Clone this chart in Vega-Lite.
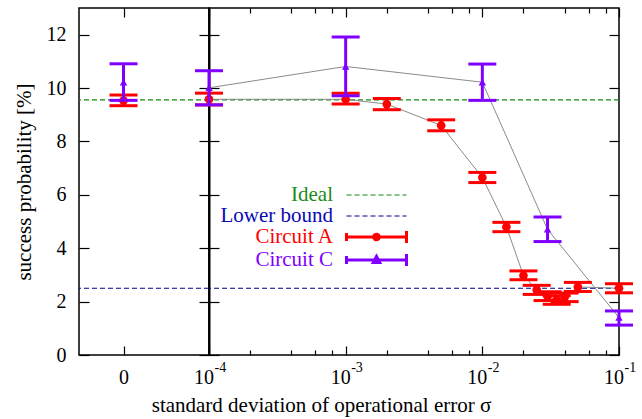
{
  "$schema": "https://vega.github.io/schema/vega-lite/v6.json",
  "autosize": {"type": "pad"},
  "padding": {"left": 12, "top": 6, "right": 5, "bottom": 5},
  "background": "white",
  "spacing": 0,
  "bounds": "flush",
  "config": {
    "view": {"stroke": "black", "strokeWidth": 1.5},
    "font": "Liberation Serif",
    "axis": {"labelFont": "Liberation Serif", "titleFont": "Liberation Serif", "labelColor": "black", "titleColor": "black", "tickColor": "black", "tickWidth": 1.2, "grid": false, "domain": false, "labelFontSize": 20, "titleFontSize": 21, "titleFontWeight": "normal", "labelFlush": false, "labelOverlap": false, "labelBound": false}
  },
  "datasets": {
    "refs": [
      {"series": "Ideal", "value": 9.56},
      {"series": "Lower bound", "value": 2.5}
    ],
    "meas": [
      {"series": "Circuit A", "sigma": 0, "mean": 9.53, "lo": 9.34, "hi": 9.74},
      {"series": "Circuit A", "sigma": 0.0001, "mean": 9.58, "lo": 9.37, "hi": 9.81},
      {"series": "Circuit A", "sigma": 0.001, "mean": 9.58, "lo": 9.40, "hi": 9.81},
      {"series": "Circuit A", "sigma": 0.002, "mean": 9.40, "lo": 9.19, "hi": 9.61},
      {"series": "Circuit A", "sigma": 0.005, "mean": 8.60, "lo": 8.40, "hi": 8.81},
      {"series": "Circuit A", "sigma": 0.01, "mean": 6.65, "lo": 6.46, "hi": 6.84},
      {"series": "Circuit A", "sigma": 0.015, "mean": 4.80, "lo": 4.62, "hi": 4.97},
      {"series": "Circuit A", "sigma": 0.02, "mean": 2.98, "lo": 2.82, "hi": 3.15},
      {"series": "Circuit A", "sigma": 0.025, "mean": 2.44, "lo": 2.27, "hi": 2.61},
      {"series": "Circuit A", "sigma": 0.03, "mean": 2.20, "lo": 2.04, "hi": 2.37},
      {"series": "Circuit A", "sigma": 0.035, "mean": 2.06, "lo": 1.90, "hi": 2.22},
      {"series": "Circuit A", "sigma": 0.04, "mean": 2.16, "lo": 2.00, "hi": 2.32},
      {"series": "Circuit A", "sigma": 0.05, "mean": 2.55, "lo": 2.38, "hi": 2.72},
      {"series": "Circuit A", "sigma": 0.1, "mean": 2.50, "lo": 2.33, "hi": 2.67},
      {"series": "Circuit C", "sigma": 0, "mean": 10.22, "lo": 9.54, "hi": 10.91},
      {"series": "Circuit C", "sigma": 0.0001, "mean": 10.01, "lo": 9.37, "hi": 10.65},
      {"series": "Circuit C", "sigma": 0.001, "mean": 10.81, "lo": 9.71, "hi": 11.91},
      {"series": "Circuit C", "sigma": 0.01, "mean": 10.22, "lo": 9.54, "hi": 10.90},
      {"series": "Circuit C", "sigma": 0.03, "mean": 4.71, "lo": 4.25, "hi": 5.17},
      {"series": "Circuit C", "sigma": 0.1, "mean": 1.40, "lo": 1.12, "hi": 1.65}
    ]
  },
  "resolve": {"legend": {"color": "independent", "strokeDash": "independent"}},
  "hconcat": [
    {
      "width": 130,
      "height": 347,
      "resolve": {"axis": {"x": "independent", "y": "independent"}},
      "layer": [
        {
          "data": {"name": "refs"},
          "mark": {"type": "rule", "strokeDash": [5, 3], "strokeWidth": 1.2},
          "encoding": {
            "y": {"field": "value", "type": "quantitative", "scale": {"domain": [0, 13], "nice": false, "zero": false},
                  "axis": {"orient": "left", "values": [0, 2, 4, 6, 8, 10, 12], "ticks": false, "tickSize": 0, "labelPadding": 13, "title": "success probability [%]", "titlePadding": 12}},
            "color": {"field": "series", "type": "nominal", "legend": null, "scale": {"domain": ["Ideal", "Lower bound", "Circuit A", "Circuit C"], "range": ["#0f8a0f", "#00008b", "#ff0000", "#8000ff"]}}
          }
        },
        {
          "data": {"name": "meas"},
          "transform": [{"filter": "datum.sigma == 0 && datum.series == 'Circuit A'"}],
          "mark": {"type": "rule", "strokeWidth": 3},
          "encoding": {
            "x": {"field": "sigma", "type": "quantitative", "scale": {"domain": [-1, 1.92], "nice": false, "zero": false},
                  "axis": {"orient": "bottom", "values": [0], "ticks": false, "tickSize": 0, "labelPadding": 12, "title": null}},
            "y": {"field": "lo", "type": "quantitative", "scale": {"domain": [0, 13], "nice": false, "zero": false}, "axis": null},
            "y2": {"field": "hi"},
            "color": {"field": "series", "type": "nominal", "legend": null}
          }
        },
        {
          "data": {"name": "meas"},
          "transform": [{"filter": "datum.sigma == 0 && datum.series == 'Circuit A'"}],
          "mark": {"type": "tick", "orient": "horizontal", "size": 28, "thickness": 3, "opacity": 1},
          "encoding": {
            "x": {"field": "sigma", "type": "quantitative", "scale": {"domain": [-1, 1.92], "nice": false, "zero": false},
                  "axis": {"orient": "bottom", "values": [0], "labels": false, "tickSize": -9, "title": null}},
            "y": {"field": "lo", "type": "quantitative", "axis": null},
            "color": {"field": "series", "type": "nominal", "legend": null}
          }
        },
        {
          "data": {"name": "meas"},
          "transform": [{"filter": "datum.sigma == 0 && datum.series == 'Circuit A'"}],
          "mark": {"type": "tick", "orient": "horizontal", "size": 28, "thickness": 3, "opacity": 1},
          "encoding": {
            "x": {"field": "sigma", "type": "quantitative",
                  "axis": {"orient": "top", "values": [0], "labels": false, "tickSize": -9, "title": null}},
            "y": {"field": "hi", "type": "quantitative", "axis": null},
            "color": {"field": "series", "type": "nominal", "legend": null}
          }
        },
        {
          "data": {"name": "meas"},
          "transform": [{"filter": "datum.sigma == 0 && datum.series == 'Circuit A'"}],
          "mark": {"type": "point", "shape": "circle", "filled": true, "size": 75, "opacity": 1},
          "encoding": {
            "x": {"field": "sigma", "type": "quantitative", "axis": null},
            "y": {"field": "mean", "type": "quantitative",
                  "axis": {"orient": "right", "values": [0, 2, 4, 6, 8, 10, 12], "labels": false, "tickSize": -10, "title": null}},
            "color": {"field": "series", "type": "nominal", "legend": null}
          }
        },
        {
          "data": {"name": "meas"},
          "transform": [{"filter": "datum.sigma == 0 && datum.series == 'Circuit C'"}],
          "mark": {"type": "rule", "strokeWidth": 3},
          "encoding": {
            "x": {"field": "sigma", "type": "quantitative", "axis": null},
            "y": {"field": "lo", "type": "quantitative",
                  "axis": {"orient": "left", "values": [0, 2, 4, 6, 8, 10, 12], "labels": false, "tickSize": -10, "title": null}},
            "y2": {"field": "hi"},
            "color": {"field": "series", "type": "nominal", "legend": null}
          }
        },
        {
          "data": {"name": "meas"},
          "transform": [{"filter": "datum.sigma == 0 && datum.series == 'Circuit C'"}],
          "mark": {"type": "tick", "orient": "horizontal", "size": 28, "thickness": 3, "opacity": 1},
          "encoding": {
            "x": {"field": "sigma", "type": "quantitative", "axis": null},
            "y": {"field": "lo", "type": "quantitative", "axis": null},
            "color": {"field": "series", "type": "nominal", "legend": null}
          }
        },
        {
          "data": {"name": "meas"},
          "transform": [{"filter": "datum.sigma == 0 && datum.series == 'Circuit C'"}],
          "mark": {"type": "tick", "orient": "horizontal", "size": 28, "thickness": 3, "opacity": 1},
          "encoding": {
            "x": {"field": "sigma", "type": "quantitative", "axis": null},
            "y": {"field": "hi", "type": "quantitative", "axis": null},
            "color": {"field": "series", "type": "nominal", "legend": null}
          }
        },
        {
          "data": {"name": "meas"},
          "transform": [{"filter": "datum.sigma == 0 && datum.series == 'Circuit C'"}],
          "mark": {"type": "point", "shape": "triangle-up", "filled": true, "size": 55, "opacity": 1},
          "encoding": {
            "x": {"field": "sigma", "type": "quantitative", "axis": null},
            "y": {"field": "mean", "type": "quantitative", "axis": null},
            "color": {"field": "series", "type": "nominal", "legend": null}
          }
        }
      ]
    },
    {
      "width": 410,
      "height": 347,
      "resolve": {"axis": {"x": "independent", "y": "independent"}},
      "layer": [
        {
          "data": {"name": "refs"},
          "mark": {"type": "rule", "strokeWidth": 1.2},
          "encoding": {
            "y": {"field": "value", "type": "quantitative", "scale": {"domain": [0, 13], "nice": false, "zero": false},
                  "axis": {"orient": "left", "values": [0, 2, 4, 6, 8, 10, 12], "labels": false, "tickSize": -10, "title": null, "domain": true, "domainWidth": 2, "domainColor": "black"}},
            "strokeDash": {"field": "series", "type": "nominal",
              "scale": {"domain": ["Ideal", "Lower bound", "Circuit A", "Circuit C"], "range": [[5, 3], [5, 3], [1, 0], [1, 0]]}},
            "color": {"field": "series", "type": "nominal",
              "scale": {"domain": ["Ideal", "Lower bound", "Circuit A", "Circuit C"], "range": ["#0f8a0f", "#00008b", "#ff0000", "#8000ff"]},
              "legend": {
                "title": null, "orient": "none", "legendX": 157, "legendY": 176.5, "padding": 0,
                "values": ["Ideal", "Lower bound", "Circuit A", "Circuit C"],
                "symbolSize": 256, "symbolOpacity": 1,
                "symbolType": {"expr": "datum.value == 'Circuit A' ? 'M-3.75,-0.5V0.5M-3.75,0H3.75M3.75,-0.75V0.75M0.35,0A0.35,0.35 0 1,1 -0.35,0A0.35,0.35 0 1,1 0.35,0Z' : datum.value == 'Circuit C' ? 'M-3.75,-0.5V0.5M-3.75,0H3.75M3.75,-0.75V0.75M0,-0.45L0.4,0.3L-0.4,0.3Z' : 'M-3.75,0H3.75'"},
                "symbolStrokeWidth": {"expr": "datum.value == 'Circuit A' || datum.value == 'Circuit C' ? 3 : 1"},
                "symbolFillColor": {"expr": "datum.value == 'Circuit A' ? '#ff0000' : datum.value == 'Circuit C' ? '#8000ff' : 'transparent'"},
                "symbolStrokeColor": {"expr": "datum.value == 'Ideal' ? '#1a8c1a' : datum.value == 'Lower bound' ? '#3535d0' : datum.value == 'Circuit A' ? '#ff0000' : '#8000ff'"},
                "labelColor": {"expr": "datum.value == 'Ideal' ? '#1a8c1a' : datum.value == 'Lower bound' ? '#0a0ab4' : datum.value == 'Circuit A' ? '#ff0000' : '#8000ff'"},
                "labelFont": "Liberation Serif", "labelFontSize": 21, "labelAlign": "right", "labelOffset": -54, "labelLimit": 400, "rowPadding": -2.3
              }
            }
          }
        },
        {
          "data": {"name": "meas"},
          "transform": [{"filter": "datum.sigma > 0"}],
          "mark": {"type": "line", "color": "#8a8a8a", "strokeWidth": 1},
          "encoding": {
            "x": {"field": "sigma", "type": "quantitative", "scale": {"type": "log", "domain": [0.0001, 0.1], "nice": false},
                  "axis": {"orient": "bottom", "values": [0.0001, 0.001, 0.01, 0.1], "labelExpr": "'10'", "ticks": false, "tickSize": 0, "labelPadding": 12, "labelOffset": -5.5,
                           "title": "standard deviation of operational error σ", "titleX": 112, "titleY": 56, "titleBaseline": "alphabetic"}},
            "y": {"field": "mean", "type": "quantitative", "scale": {"domain": [0, 13], "nice": false, "zero": false},
                  "axis": {"orient": "right", "values": [0, 2, 4, 6, 8, 10, 12], "labels": false, "tickSize": -10, "title": null}},
            "detail": {"field": "series", "type": "nominal"}
          }
        },
        {
          "data": {"name": "meas"},
          "transform": [{"filter": "datum.sigma > 0 && datum.series == 'Circuit A'"}],
          "mark": {"type": "rule", "strokeWidth": 3},
          "encoding": {
            "x": {"field": "sigma", "type": "quantitative",
                  "axis": {"orient": "bottom", "values": [0.0001, 0.001, 0.01, 0.1], "labels": false, "tickSize": -9, "title": null}},
            "y": {"field": "lo", "type": "quantitative", "axis": null},
            "y2": {"field": "hi"},
            "color": {"field": "series", "type": "nominal"}
          }
        },
        {
          "data": {"name": "meas"},
          "transform": [{"filter": "datum.sigma > 0 && datum.series == 'Circuit A'"}],
          "mark": {"type": "tick", "orient": "horizontal", "size": 28, "thickness": 3, "opacity": 1},
          "encoding": {
            "x": {"field": "sigma", "type": "quantitative",
                  "axis": {"orient": "bottom", "values": [0.0002, 0.0004, 0.0006, 0.0008, 0.002, 0.004, 0.006, 0.008, 0.02, 0.04, 0.06, 0.08], "labels": false, "tickSize": -5, "title": null}},
            "y": {"field": "lo", "type": "quantitative", "axis": null},
            "color": {"field": "series", "type": "nominal"}
          }
        },
        {
          "data": {"name": "meas"},
          "transform": [{"filter": "datum.sigma > 0 && datum.series == 'Circuit A'"}],
          "mark": {"type": "tick", "orient": "horizontal", "size": 28, "thickness": 3, "opacity": 1},
          "encoding": {
            "x": {"field": "sigma", "type": "quantitative",
                  "axis": {"orient": "top", "values": [0.0001, 0.001, 0.01, 0.1], "labels": false, "tickSize": -9, "title": null}},
            "y": {"field": "hi", "type": "quantitative", "axis": null},
            "color": {"field": "series", "type": "nominal"}
          }
        },
        {
          "data": {"name": "meas"},
          "transform": [{"filter": "datum.sigma > 0 && datum.series == 'Circuit A'"}],
          "mark": {"type": "point", "shape": "circle", "filled": true, "size": 75, "opacity": 1},
          "encoding": {
            "x": {"field": "sigma", "type": "quantitative",
                  "axis": {"orient": "top", "values": [0.0002, 0.0004, 0.0006, 0.0008, 0.002, 0.004, 0.006, 0.008, 0.02, 0.04, 0.06, 0.08], "labels": false, "tickSize": -5, "title": null}},
            "y": {"field": "mean", "type": "quantitative", "axis": null},
            "color": {"field": "series", "type": "nominal"}
          }
        },
        {
          "data": {"name": "meas"},
          "transform": [{"filter": "datum.sigma > 0 && datum.series == 'Circuit C'"}],
          "mark": {"type": "rule", "strokeWidth": 3},
          "encoding": {
            "x": {"field": "sigma", "type": "quantitative",
                  "axis": {"orient": "bottom", "values": [0.0001, 0.001, 0.01, 0.1], "labelExpr": "datum.value == 0.0001 ? '-4' : datum.value == 0.001 ? '-3' : datum.value == 0.01 ? '-2' : '-1'", "ticks": false, "tickSize": 0, "labelPadding": 5, "labelFontSize": 14, "labelAlign": "left", "labelOffset": 5, "title": null}},
            "y": {"field": "lo", "type": "quantitative", "axis": null},
            "y2": {"field": "hi"},
            "color": {"field": "series", "type": "nominal"}
          }
        },
        {
          "data": {"name": "meas"},
          "transform": [{"filter": "datum.sigma > 0 && datum.series == 'Circuit C'"}],
          "mark": {"type": "tick", "orient": "horizontal", "size": 28, "thickness": 3, "opacity": 1},
          "encoding": {
            "x": {"field": "sigma", "type": "quantitative", "axis": null},
            "y": {"field": "lo", "type": "quantitative", "axis": null},
            "color": {"field": "series", "type": "nominal"}
          }
        },
        {
          "data": {"name": "meas"},
          "transform": [{"filter": "datum.sigma > 0 && datum.series == 'Circuit C'"}],
          "mark": {"type": "tick", "orient": "horizontal", "size": 28, "thickness": 3, "opacity": 1},
          "encoding": {
            "x": {"field": "sigma", "type": "quantitative", "axis": null},
            "y": {"field": "hi", "type": "quantitative", "axis": null},
            "color": {"field": "series", "type": "nominal"}
          }
        },
        {
          "data": {"name": "meas"},
          "transform": [{"filter": "datum.sigma > 0 && datum.series == 'Circuit C'"}],
          "mark": {"type": "point", "shape": "triangle-up", "filled": true, "size": 55, "opacity": 1},
          "encoding": {
            "x": {"field": "sigma", "type": "quantitative", "axis": null},
            "y": {"field": "mean", "type": "quantitative", "axis": null},
            "color": {"field": "series", "type": "nominal"}
          }
        }
      ]
    }
  ]
}
